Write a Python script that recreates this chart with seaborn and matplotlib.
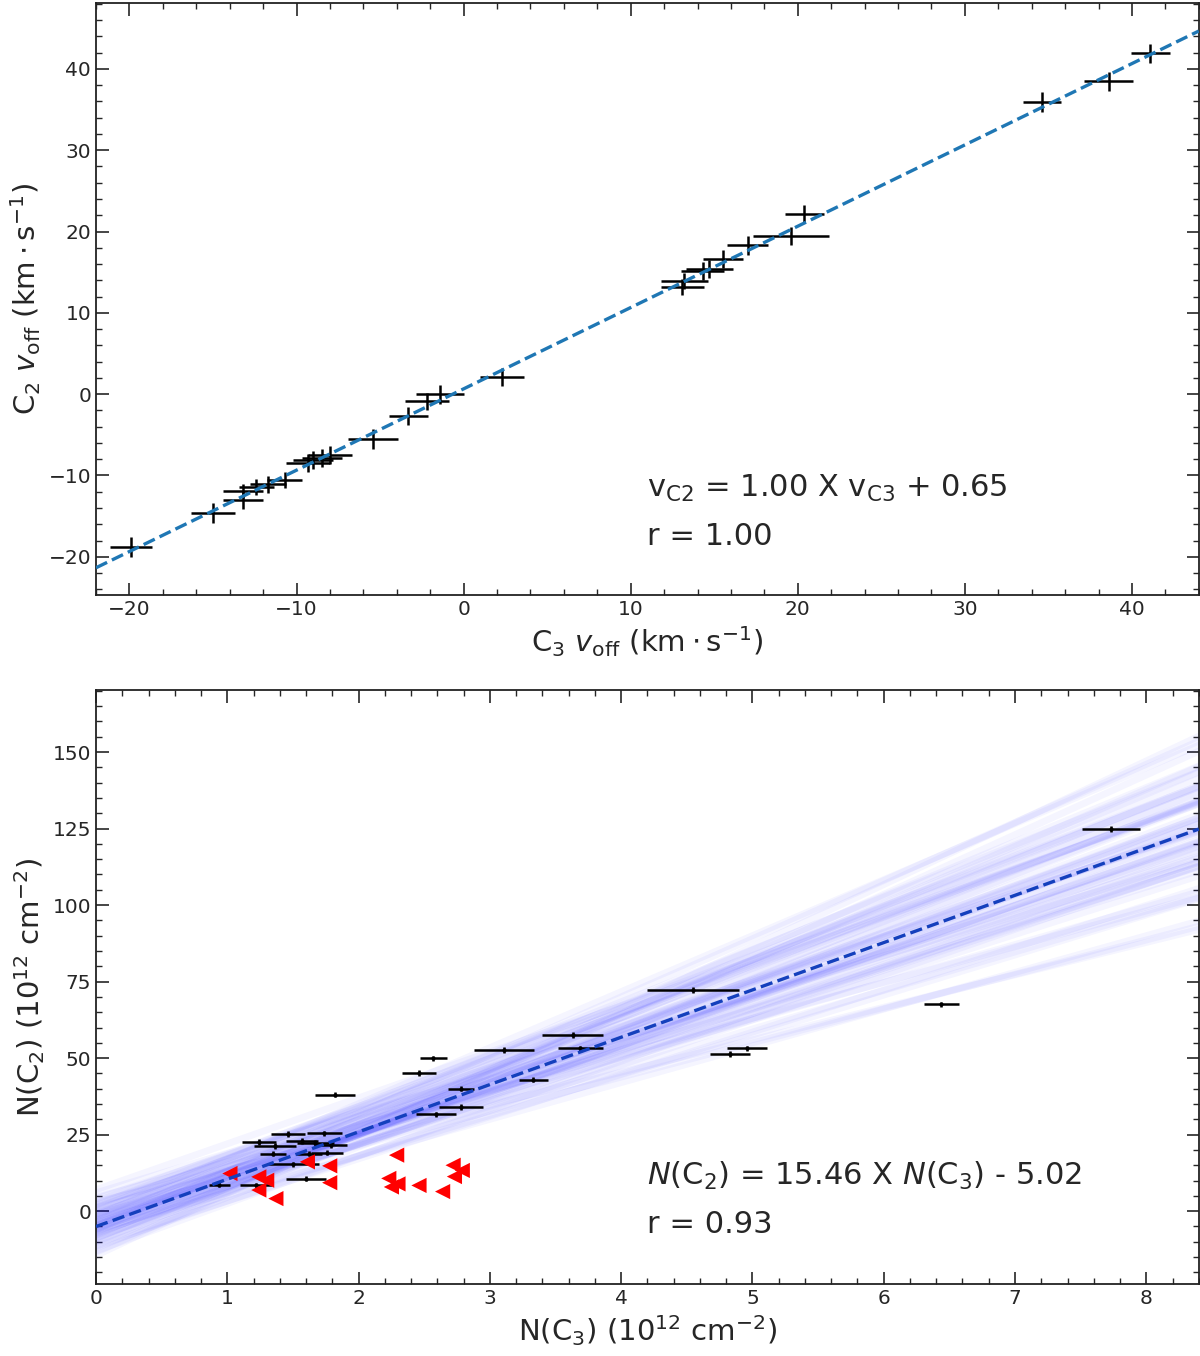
import numpy as np
import pandas as pd
import seaborn as sns
import matplotlib.pyplot as plt
from matplotlib.ticker import MultipleLocator

# --- top panel: velocity offsets (km/s) ---
v_c3 = [-19.9, -15.0, -13.2, -13.2, -12.4, -11.7, -10.7, -9.3, -9.0, -8.5, -8.0,
        -5.4, -3.3, -2.2, -1.4, 2.3, 13.2, 13.1, 14.3, 14.7, 15.5, 17.0, 19.6,
        20.4, 34.6, 38.6, 41.1]
v_c2 = [-18.8, -14.6, -13.0, -11.9, -11.4, -11.1, -10.6, -8.5, -8.1, -7.8, -7.5,
        -5.5, -2.7, -0.9, 0.0, 2.1, 13.9, 13.2, 15.1, 15.4, 16.6, 18.3, 19.5,
        22.1, 35.9, 38.5, 41.9]
v_c3_err = [1.28, 1.29, 1.18, 1.22, 1.05, 1.08, 1.05, 1.3, 1.2, 1.2, 1.3,
            1.5, 1.18, 1.3, 1.42, 1.33, 1.4, 1.3, 1.3, 1.4, 1.2, 1.24, 2.26,
            1.17, 1.15, 1.45, 1.17]
v_c2_err = [1.2, 1.2, 1.1, 0.9, 1.0, 1.0, 1.0, 1.1, 1.1, 1.1, 1.1,
            1.2, 1.1, 1.0, 1.17, 1.1, 1.0, 1.0, 1.1, 1.1, 1.1, 1.2, 1.1,
            1.1, 1.23, 1.17, 1.2]
v_slope, v_icpt = 1.00, 0.65

# --- bottom panel: column densities (1e12 cm^-2) ---
n_c3 = [0.94, 1.22, 1.24, 1.36, 1.35, 1.46, 1.57, 1.67, 1.79, 1.74, 1.62, 1.76,
        1.50, 1.60, 1.82, 2.46, 2.57, 2.59, 2.78, 2.78, 3.11, 3.33, 3.63, 3.69,
        4.55, 4.83, 4.96, 6.44, 7.73]
n_c2 = [8.7, 8.4, 22.6, 21.3, 18.8, 25.2, 22.9, 22.3, 21.6, 25.4, 18.8, 19.1,
        15.3, 10.6, 38.1, 45.2, 49.9, 31.6, 40.0, 34.1, 52.6, 43.0, 57.5, 53.2,
        72.2, 51.3, 53.2, 67.6, 124.8]
n_c3_err = [0.08, 0.12, 0.13, 0.16, 0.10, 0.13, 0.12, 0.14, 0.12, 0.13, 0.10, 0.12,
            0.20, 0.15, 0.15, 0.13, 0.10, 0.15, 0.10, 0.17, 0.23, 0.11, 0.23, 0.17,
            0.35, 0.15, 0.15, 0.13, 0.22]
n_c2_err = [0.9] * len(n_c2)

# upper limits (red triangles)
lim_c3 = [1.02, 1.24, 1.30, 1.24, 1.37, 1.61, 1.78, 1.78, 2.29, 2.23, 2.25, 2.30,
          2.46, 2.64, 2.72, 2.79, 2.73]
lim_c2 = [12.3, 11.2, 10.1, 6.9, 4.1, 16.1, 14.8, 9.3, 18.3, 10.7, 7.9, 8.9,
          8.4, 6.4, 15.0, 13.3, 11.3]

n_slope, n_icpt = 15.46, -5.02
# posterior sample lines (slope, intercept) drawn as a faint band
samp_slope = [10.6, 11.2, 11.7, 12.0, 12.3, 12.6, 12.9, 13.1, 13.3, 13.5,
              13.7, 13.8, 14.0, 14.1, 14.3, 14.4, 14.5, 14.6, 14.8, 14.9,
              15.0, 15.1, 15.2, 15.3, 15.4, 15.5, 15.5, 15.6, 15.7, 15.8,
              15.9, 16.0, 16.1, 16.2, 16.3, 16.5, 16.6, 16.8, 16.9, 17.1,
              17.3, 17.5, 17.7, 18.0, 18.3, 18.6, 19.0, 19.5, 20.2, 14.7,
              15.3, 16.4, 13.9, 17.0, 15.8, 14.2, 16.7, 15.0, 13.6, 17.4]
samp_icpt = [3.0, -1.0, 4.5, -6.0, 1.0, -3.5, 6.0, -8.0, -0.5, 2.5,
             -5.5, -10.5, 0.5, -3.0, 4.0, -7.0, -1.5, 1.8, -11.5, -4.5,
             7.0, -2.0, -8.5, -0.8, -5.8, 3.2, -13.0, -3.8, -6.5, 1.2,
             -9.5, -4.8, -1.2, -7.5, 2.0, -12.0, -5.0, -2.5, -8.8, 0.0,
             -6.2, -10.0, -3.2, -7.8, -1.5, -11.0, -6.0, -13.5, -14.5, -4.0,
             -7.2, 0.8, -2.8, -9.0, -4.2, -6.5, -3.6, -5.2, -1.8, -4.8]

sns.set_style("ticks")
plt.rcParams['font.family'] = ['DejaVu Sans']
plt.rcParams['mathtext.fontset'] = 'dejavusans'

fig = plt.figure(figsize=(12, 13.56), dpi=100)
ax1 = fig.add_axes([0.08, 0.5612, 0.919, 0.4366])
ax2 = fig.add_axes([0.08, 0.0531, 0.919, 0.4381])

# top panel
ax1.errorbar(v_c3, v_c2, xerr=v_c3_err, yerr=v_c2_err, fmt='none',
             ecolor='black', elinewidth=1.8, capsize=0, zorder=3)
vx = np.array([-22.0, 44.0])
fit_top = pd.DataFrame({'x': vx, 'y': v_slope * vx + v_icpt})
sns.lineplot(data=fit_top, x='x', y='y', ax=ax1, color='#1f77b4',
             linestyle='--', linewidth=2.4, zorder=4)
ax1.set_xlim(-22, 44)
ax1.set_ylim(-24.7, 48.1)
ax1.xaxis.set_major_locator(MultipleLocator(10))
ax1.xaxis.set_minor_locator(MultipleLocator(2))
ax1.yaxis.set_major_locator(MultipleLocator(10))
ax1.yaxis.set_minor_locator(MultipleLocator(2))
ax1.set_xlabel(r'C$_3$ $v_{\rm off}$ $(\mathrm{km}\cdot\mathrm{s}^{-1})$', fontsize=21)
ax1.set_ylabel(r'C$_2$ $v_{\rm off}$ $(\mathrm{km}\cdot\mathrm{s}^{-1})$', fontsize=21)
ax1.text(0.5, 0.166, r'v$_{\rm C2}$ = 1.00 X v$_{\rm C3}$ + 0.65',
         transform=ax1.transAxes, fontsize=22, va='baseline')
ax1.text(0.5, 0.084, 'r = 1.00', transform=ax1.transAxes, fontsize=22,
         va='baseline')

# bottom panel
nx = np.array([0.0, 8.4])
for s, b in zip(samp_slope, samp_icpt):
    ax2.plot(nx, s * nx + b, color='blue', alpha=0.038, linewidth=5, zorder=1)
ax2.errorbar(n_c3, n_c2, xerr=n_c3_err, yerr=n_c2_err, fmt='.', color='black',
             markersize=4, elinewidth=1.8, capsize=0, zorder=3)
lims = pd.DataFrame({'x': lim_c3, 'y': lim_c2})
sns.scatterplot(data=lims, x='x', y='y', ax=ax2, marker='<', color='red',
                s=120, edgecolor='none', zorder=4)
fit_bot = pd.DataFrame({'x': nx, 'y': n_slope * nx + n_icpt})
sns.lineplot(data=fit_bot, x='x', y='y', ax=ax2, color='#1440bd',
             linestyle='--', linewidth=2.4, zorder=5)
ax2.set_xlim(0, 8.4)
ax2.set_ylim(-23.8, 170.3)
ax2.xaxis.set_major_locator(MultipleLocator(1))
ax2.xaxis.set_minor_locator(MultipleLocator(0.2))
ax2.yaxis.set_major_locator(MultipleLocator(25))
ax2.yaxis.set_minor_locator(MultipleLocator(5))
ax2.set_xlabel(r'N(C$_3$) (10$^{12}$ cm$^{-2}$)', fontsize=21)
ax2.set_ylabel(r'N(C$_2$) (10$^{12}$ cm$^{-2}$)', fontsize=21)
ax2.text(0.5, 0.167, r'$N$(C$_2$) = 15.46 X $N$(C$_3$) - 5.02',
         transform=ax2.transAxes, fontsize=22, va='baseline')
ax2.text(0.5, 0.086, 'r = 0.93', transform=ax2.transAxes, fontsize=22,
         va='baseline')

for ax in (ax1, ax2):
    ax.tick_params(which='both', direction='in', top=True, right=True,
                   labelsize=14.5)
    ax.tick_params(which='major', length=9, width=1.2)
    ax.tick_params(which='minor', length=4.5, width=1.0)
    for sp in ax.spines.values():
        sp.set_linewidth(1.3)
        sp.set_color('#222222')

fig.savefig('out.png', dpi=100)
